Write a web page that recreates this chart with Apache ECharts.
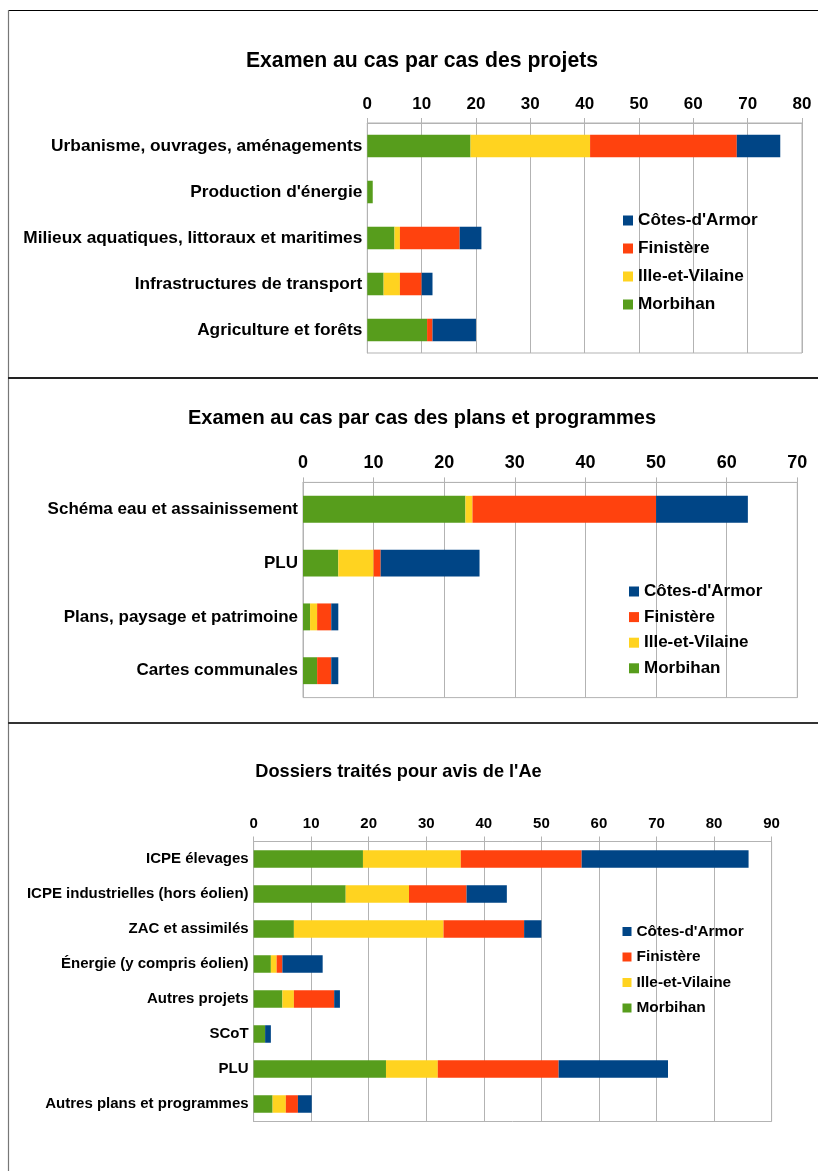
<!DOCTYPE html>
<html><head><meta charset="utf-8">
<script src="https://cdn.jsdelivr.net/npm/echarts@6/dist/echarts.min.js"></script>
<style>html,body{margin:0;padding:0;background:#fff}#c{width:818px;height:1171px}</style>
</head><body><div id="c"></div>
<script>
// Series (stack order) and legend order
const seriesNames = ['Morbihan', 'Ille-et-Vilaine', 'Finistère', "Côtes-d'Armor"];
const legendOrder = ["Côtes-d'Armor", 'Finistère', 'Ille-et-Vilaine', 'Morbihan'];
const seriesColors = ['#579d1c', '#ffd320', '#ff420e', '#004586'];

// Chart 1: Examen au cas par cas des projets
const title1 = 'Examen au cas par cas des projets';
const categories1 = ['Urbanisme, ouvrages, aménagements', "Production d'énergie", 'Milieux aquatiques, littoraux et maritimes', 'Infrastructures de transport', 'Agriculture et forêts'];
const morbihan1 = [19, 1, 5, 3, 11];
const illeVilaine1 = [22, 0, 1, 3, 0];
const finistere1 = [27, 0, 11, 4, 1];
const cotesArmor1 = [8, 0, 4, 2, 8];
const ticks1 = [0, 10, 20, 30, 40, 50, 60, 70, 80];

// Chart 2: Examen au cas par cas des plans et programmes
const title2 = 'Examen au cas par cas des plans et programmes';
const categories2 = ['Schéma eau et assainissement', 'PLU', 'Plans, paysage et patrimoine', 'Cartes communales'];
const morbihan2 = [23, 5, 1, 2];
const illeVilaine2 = [1, 5, 1, 0];
const finistere2 = [26, 1, 2, 2];
const cotesArmor2 = [13, 14, 1, 1];
const ticks2 = [0, 10, 20, 30, 40, 50, 60, 70];

// Chart 3: Dossiers traités pour avis de l'Ae
const title3 = "Dossiers traités pour avis de l'Ae";
const categories3 = ['ICPE élevages', 'ICPE industrielles (hors éolien)', 'ZAC et assimilés', 'Énergie (y compris éolien)', 'Autres projets', 'SCoT', 'PLU', 'Autres plans et programmes'];
const morbihan3 = [19, 16, 7, 3, 5, 2, 23, 3.3];
const illeVilaine3 = [17, 11, 26, 1, 2, 0, 9, 2.3];
const finistere3 = [21, 10, 14, 1, 7, 0, 21, 2.1];
const cotesArmor3 = [29, 7, 3, 7, 1, 1, 19, 2.4];
const ticks3 = [0, 10, 20, 30, 40, 50, 60, 70, 80, 90];

const FONT = "'Liberation Sans', Arial, sans-serif";
const GRID_GRAY = '#b3b3b3';

const panels = [
  { title: title1, cats: categories1, data: [morbihan1, illeVilaine1, finistere1, cotesArmor1], ticks: ticks1,
    grid: { left: 367.3, top: 123, width: 434.7, height: 230 }, barW: '49%',
    titleX: 422, titleY: 61, titleSize: 21.2, tickSize: 17, tickMargin: 10.5, catSize: 17.3,
    legend: { left: 623, top: 212, gap: 11, size: 17.2, iw: 10, ih: 10 } },
  { title: title2, cats: categories2, data: [morbihan2, illeVilaine2, finistere2, cotesArmor2], ticks: ticks2,
    grid: { left: 303, top: 482.4, width: 494.3, height: 215.2 }, barW: '50%',
    titleX: 422, titleY: 418, titleSize: 20, tickSize: 18, tickMargin: 10, catSize: 17,
    legend: { left: 629, top: 583, gap: 8.6, size: 17, iw: 10, ih: 10 } },
  { title: title3, cats: categories3, data: [morbihan3, illeVilaine3, finistere3, cotesArmor3], ticks: ticks3,
    grid: { left: 253.6, top: 841.5, width: 518, height: 280 }, barW: '50%',
    titleX: 398.5, titleY: 772, titleSize: 18.2, tickSize: 15, tickMargin: 10, catSize: 15,
    legend: { left: 622.5, top: 924, gap: 10.5, size: 15.4, iw: 9, ih: 9 } }
];

const option = {
  backgroundColor: '#fff',
  animation: false,
  title: [], legend: [], grid: [], xAxis: [], yAxis: [], series: [],
  graphic: [
    { type: 'line', z: 100, shape: { x1: 8, y1: 10.5, x2: 818, y2: 10.5 }, style: { stroke: '#000', lineWidth: 1.2 } },
    { type: 'line', z: 100, shape: { x1: 8.5, y1: 10, x2: 8.5, y2: 1171 }, style: { stroke: '#777', lineWidth: 1.2 } },
    { type: 'line', z: 100, shape: { x1: 8, y1: 378, x2: 818, y2: 378 }, style: { stroke: '#222', lineWidth: 2 } },
    { type: 'line', z: 100, shape: { x1: 8, y1: 723, x2: 818, y2: 723 }, style: { stroke: '#333', lineWidth: 2 } }
  ]
};

panels.forEach((p, i) => {
  const max = p.ticks[p.ticks.length - 1];
  const interval = p.ticks[1] - p.ticks[0];
  option.title.push({
    text: p.title, left: p.titleX, top: p.titleY, textAlign: 'center', textVerticalAlign: 'middle', padding: 0,
    textStyle: { fontFamily: FONT, fontWeight: 'bold', fontSize: p.titleSize, color: '#000' }
  });
  option.grid.push(Object.assign({ show: true, borderColor: GRID_GRAY, borderWidth: 1, containLabel: false }, p.grid));
  option.xAxis.push({
    type: 'value', gridIndex: i, position: 'top', min: p.ticks[0], max: max, interval: interval,
    axisLine: { show: true, lineStyle: { color: GRID_GRAY, width: 1 } },
    axisTick: { show: true, length: 5, lineStyle: { color: GRID_GRAY } },
    axisLabel: { fontFamily: FONT, fontWeight: 'bold', fontSize: p.tickSize, color: '#000', margin: p.tickMargin },
    splitLine: { show: true, lineStyle: { color: GRID_GRAY, width: 1 } }
  });
  option.yAxis.push({
    type: 'category', gridIndex: i, data: p.cats, inverse: true,
    axisLine: { show: true, lineStyle: { color: GRID_GRAY, width: 1 } },
    axisTick: { show: false },
    axisLabel: { fontFamily: FONT, fontWeight: 'bold', fontSize: p.catSize, color: '#000', margin: 5 },
    splitLine: { show: false }
  });
  seriesNames.forEach((name, k) => {
    option.series.push({
      type: 'bar', name: name, xAxisIndex: i, yAxisIndex: i, stack: 'stack' + i,
      barWidth: p.barW, data: p.data[k], itemStyle: { color: seriesColors[k] },
      emphasis: { disabled: true }
    });
  });
  option.legend.push({
    orient: 'vertical', left: p.legend.left, top: p.legend.top, padding: 0,
    itemGap: p.legend.gap, itemWidth: p.legend.iw, itemHeight: p.legend.ih, icon: 'rect',
    selectedMode: false, data: legendOrder,
    textStyle: { fontFamily: FONT, fontWeight: 'bold', fontSize: p.legend.size, color: '#000', padding: [0, 0, 0, 0] }
  });
});

const chart = echarts.init(document.getElementById('c'), null, { renderer: 'canvas' });
chart.setOption(option);
</script>
</body></html>
